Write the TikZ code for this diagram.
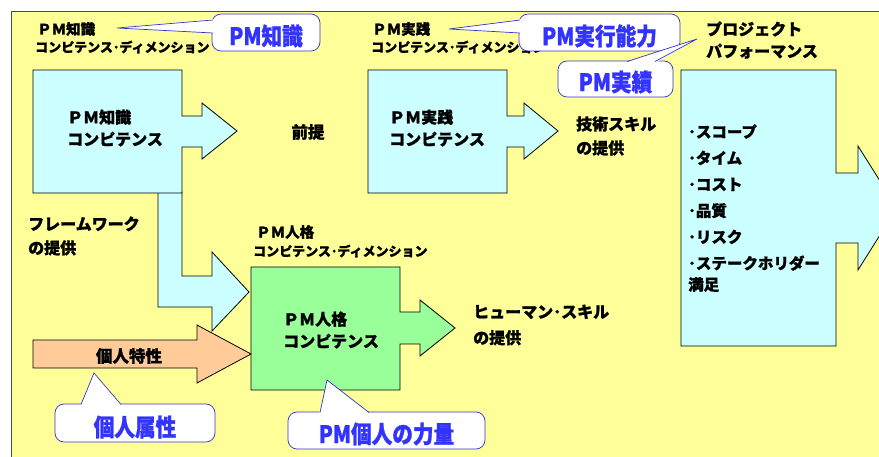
\documentclass[tikz,border=0pt]{standalone}
\usepackage{fontspec}
\setmainfont{Noto Sans CJK JP}[BoldFeatures={FakeBold=1.2}]
\definecolor{bgY}{HTML}{FFFF99}
\definecolor{cyanF}{HTML}{CCFFFF}
\definecolor{greenF}{HTML}{99FF99}
\definecolor{orangeF}{HTML}{FFCC99}
\definecolor{callB}{HTML}{3333CC}
\definecolor{callT}{HTML}{3333FF}
\newcommand{\cond}[1]{\scalebox{0.86}[1]{#1}}
\begin{document}
\begin{tikzpicture}[x=1pt,y=-1pt,
  blk/.style={draw=black, line width=0.8pt, line join=miter},
  lbl/.style={font=\bfseries\fontsize{16}{22}\selectfont, align=left, inner sep=0, anchor=west},
  dim/.style={font=\bfseries\fontsize{13}{14}\selectfont, inner sep=0, anchor=west},
  callbox/.style={draw=callB, fill=white, rounded corners=9pt, line width=0.7pt, inner sep=0},
  calltext/.style={text=callT, font=\bfseries\fontsize{24}{26}\selectfont, inner sep=0},
  wedgeline/.style={draw=callB, line width=0.7pt}
]
\useasboundingbox (0,0) rectangle (879,457);
\clip (0,0) rectangle (879,457);
% background
\fill[white] (0,0) rectangle (879,457);
\fill[bgY] (11,11) rectangle (879,457);
\draw[gray!60!black, line width=0.8pt] (11,457) -- (11,11) -- (879,11);

% bent arrow from PM knowledge to PM personality
\draw[blk, fill=cyanF] (158,192) -- (182,192) -- (182,276) -- (212,276) -- (212,252) -- (249,292) -- (212,331) -- (212,307) -- (158,307) -- cycle;
% PM knowledge box with arrow
\draw[blk, fill=cyanF] (33,70) -- (182,70) -- (182,116) -- (202,116) -- (202,103) -- (237,131) -- (202,159) -- (202,147) -- (182,147) -- (182,193) -- (33,193) -- cycle;
% PM practice box with arrow
\draw[blk, fill=cyanF] (368,70) -- (507,70) -- (507,116) -- (524,116) -- (524,103) -- (558,131) -- (524,159) -- (524,147) -- (507,147) -- (507,193) -- (368,193) -- cycle;
% project performance box with arrow
\draw[blk, fill=cyanF] (681,70) -- (836,70) -- (836,173) -- (858,173) -- (858,146) -- (897,208) -- (858,270) -- (858,243) -- (836,243) -- (836,346) -- (681,346) -- cycle;
% PM personality box with arrow
\draw[blk, fill=greenF] (251,267) -- (400,267) -- (400,312) -- (420,312) -- (420,300) -- (455,328) -- (420,356) -- (420,344) -- (400,344) -- (400,390) -- (251,390) -- cycle;
% personal traits arrow
\draw[blk, fill=orangeF] (33,340) -- (197,340) -- (197,325) -- (251,354) -- (197,383) -- (197,368) -- (33,368) -- cycle;

% texts
\node[lbl] (kbox) at (67,128) {ＰＭ知識\\コンピテンス};
\node[lbl] (pbox) at (389,128) {ＰＭ実践\\コンピテンス};
\node[lbl] (hbox) at (283,330) {ＰＭ人格\\コンピテンス};
\node[font=\bfseries\fontsize{16.5}{22}\selectfont, inner sep=0] (trait) at (129,356) {個人特性};
\node[font=\bfseries\fontsize{16.5}{22}\selectfont, inner sep=0] (premise) at (308,132) {前提};
\node[lbl, font=\bfseries\fontsize{16}{24}\selectfont] (tech) at (576,136) {技術スキル\\の提供};
\node[lbl, font=\bfseries\fontsize{16}{24}\selectfont] (frame) at (28,236) {フレームワーク\\の提供};
\node[lbl, font=\bfseries\fontsize{16}{26}\selectfont] (human) at (473,325) {ヒューマン･スキル\\の提供};
\node[lbl] (proj) at (706,40) {プロジェクト\\パフォーマンス};
\node[lbl, anchor=north west, font=\bfseries\fontsize{15.5}{26.3}\selectfont] (items) at (688,124)
  {･スコープ\\･タイム\\･コスト\\･品質\\･リスク\\･ステークホリダー\\[-5pt]満足};

\node[dim, font=\bfseries\fontsize{14.5}{16}\selectfont] (kdimA) at (37,29) {ＰＭ知識};
\node[dim] (kdimB) at (35,47) {コンピテンス･ディメンション};
\node[dim, font=\bfseries\fontsize{14.5}{16}\selectfont] (pdimA) at (372,29) {ＰＭ実践};
\node[dim] (pdimB) at (371,47) {コンピテンス･ディメンション};
\node[dim, font=\bfseries\fontsize{14.5}{16}\selectfont] (hdimA) at (256,232) {ＰＭ人格};
\node[dim] (hdimB) at (253,251) {コンピテンス･ディメンション};

% callouts
\node[callbox, minimum width=108pt, minimum height=37pt] (c1) at (266,32.5) {};
\fill[white] (117,28) -- (214,19) -- (214,33) -- cycle;
\draw[wedgeline] (213,20) -- (117,28) -- (213,33);
\node[calltext] (c1t) at (266,36) {\cond{PM知識}};

\node[callbox, minimum width=161pt, minimum height=37pt] (c2) at (599.5,32.5) {};
\fill[white] (449,29) -- (521,19) -- (521,33) -- cycle;
\draw[wedgeline] (520,20) -- (449,29) -- (520,33);
\node[calltext] (c2t) at (599.5,36) {\cond{PM実行能力}};

\node[callbox, minimum width=115pt, minimum height=36pt] (c3) at (615.5,79) {};
\fill[white] (697,39) -- (626,62.5) -- (656,62.5) -- cycle;
\draw[wedgeline] (627,61.5) -- (697,39) -- (655,61.5);
\node[calltext] (c3t) at (615.5,82) {\cond{PM実績}};

\node[callbox, minimum width=160pt, minimum height=38pt] (c4) at (135,423) {};
\fill[white] (94,373) -- (80,406) -- (122,406) -- cycle;
\draw[wedgeline] (81,404.5) -- (94,373) -- (121,404.5);
\node[calltext] (c4t) at (135,427) {\cond{個人属性}};

\node[callbox, minimum width=197pt, minimum height=37pt] (c5) at (386.5,430.5) {};
\fill[white] (327,380) -- (319,414) -- (370,414) -- cycle;
\draw[wedgeline] (320,412.5) -- (327,380) -- (369,412.5);
\node[calltext] (c5t) at (386.5,434) {\cond{PM個人の力量}};
\end{tikzpicture}
\end{document}
